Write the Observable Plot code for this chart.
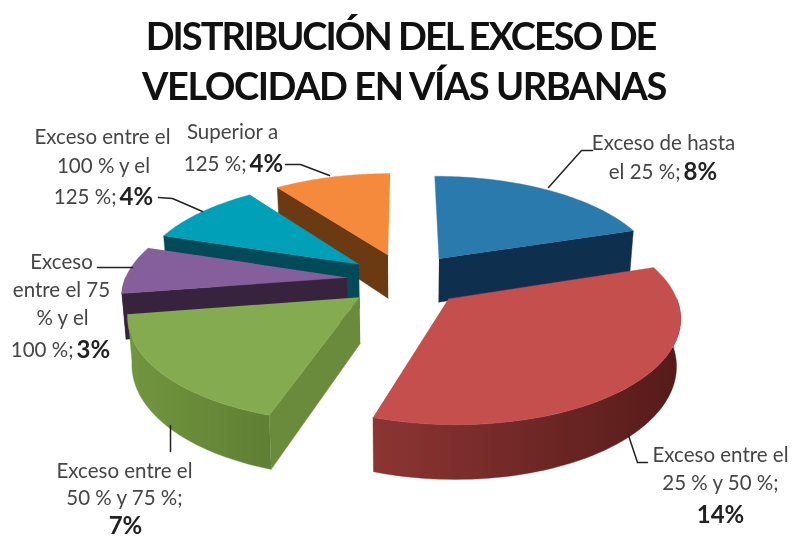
<!DOCTYPE html>
<html>
<head>
<meta charset="utf-8">
<script src="https://cdn.jsdelivr.net/npm/d3@7"></script>
<script src="https://cdn.jsdelivr.net/npm/@observablehq/plot@0.6"></script>
<style>
html,body{margin:0;padding:0;background:#fff}
svg{display:block;filter:blur(0.7px)}
.ttl1 text{letter-spacing:-2px}
.ttl2 text{letter-spacing:-1.44px}
</style>
</head>
<body>
<div id="chart"></div>
<script>
// Data
const titleLines = ["DISTRIBUCIÓN DEL EXCESO DE", "VELOCIDAD EN VÍAS URBANAS"];
const categories = ["Exceso de hasta el 25 %", "Exceso entre el 25 % y 50 %", "Exceso entre el 50 % y 75 %", "Exceso entre el 75 % y el 100 %", "Exceso entre el 100 % y el 125 %", "Superior a 125 %"];
const values = [8, 14, 7, 3, 4, 4];

// Styles
const topColors  = ["#2b7aae", "#c54f4c", "#85ab50", "#855f9b", "#00a0b9", "#f58a3d"];
const sideColors = ["#0e2f4e", "#7a2a28", "#6a8a3c", "#38233f", "#024a58", "#6b3a12"];
const rimStops = [
  ["#0e2f4e", "#0e2f4e"], ["#8c3533", "#551b19"], ["#71963f", "#5f7f33"],
  ["#38233f", "#38233f"], ["#024a58", "#024a58"], ["#6b3a12", "#6b3a12"]
];
const drawOrder = [5, 4, 3, 2, 0, 1];

// Perspective pie geometry derived from the values
const view = {cx: 405, cy: 279, rx: 222, ry: 100.5, k: 0.15, depth: 45, explode: 0.265, taper: 0.985};
const rad = d => d * Math.PI / 180;
const total = d3.sum(values);
let acc = 0;
const slices = values.map((v, i) => {
  const a0 = acc / total * 360; acc += v; const a1 = acc / total * 360;
  const m = (a0 + a1) / 2;
  return {i, a0, a1, ex: view.explode * Math.sin(rad(m)), ey: view.explode * Math.cos(rad(m))};
});
function proj(s, a, r, down) {
  const u = s.ex + r * Math.sin(rad(a)), v = s.ey + r * Math.cos(rad(a)), w = 1 + view.k * v;
  return {x: view.cx + view.rx * u / w * (down ? view.taper : 1), y: view.cy - view.ry * v / w + (down ? view.depth / w : 0)};
}
const arc = (s, from, to, down) => d3.range(0, 61).map(t => proj(s, from + (to - from) * t / 60, 1, down));
function edgeFace(s, a) {
  return [proj(s, 0, 0, false), proj(s, a, 1, false), proj(s, a, 1, true), proj(s, 0, 0, true)];
}

const defs = () => {
  const d = d3.create("svg:defs");
  rimStops.forEach((st, i) => {
    const g = d.append("linearGradient").attr("id", "rim" + i);
    g.append("stop").attr("offset", "0").attr("stop-color", st[0]);
    g.append("stop").attr("offset", "1").attr("stop-color", st[1]);
  });
  return d.node();
};

const face = (pts, color) => Plot.line(pts, {x: "x", y: "y", fill: color, stroke: color, strokeWidth: 0.4});
const pieMarks = [];
for (const i of drawOrder) {
  const s = slices[i];
  const rs = Math.max(s.a0, 90), re = Math.min(s.a1, 270);
  if (re > rs) pieMarks.push(face([...arc(s, rs, re, false), ...arc(s, re, rs, true)], `url(#rim${i})`));
  if (Math.sin(rad(s.a0)) < -1e-6) pieMarks.push(face(edgeFace(s, s.a0), sideColors[i]));
  if (Math.sin(rad(s.a1)) > 1e-6) pieMarks.push(face(edgeFace(s, s.a1), sideColors[i]));
  pieMarks.push(face([proj(s, 0, 0, false), ...arc(s, s.a0, s.a1, false)], topColors[i]));
}

// Label layout: centred plain lines, and [plain, bold] lines meeting at a seam
const plainLines = [
  ["Exceso de hasta", 663, 143], ["Superior a", 232, 132],
  ["Exceso entre el", 102, 137], ["100 % y el", 103, 166],
  ["Exceso", 61, 262], ["entre el 75", 61, 290], ["% y el", 62, 318],
  ["Exceso entre el", 124, 471], ["50 % y 75 %;", 124, 498],
  ["Exceso entre el", 720, 455], ["25 % y 50 %;", 720, 483]
].map(([text, x, y]) => ({text, x, y}));
const seamLines = [
  ["el 25 %;", 0, 680, 172], ["125 %;", 5, 246, 164], ["125 %;", 4, 116, 197], ["100 %;", 3, 73, 350]
].map(([text, idx, x, y]) => ({text, value: values[idx] + "%", x, y}));
const centredValues = [[2, 125, 526], [1, 720, 515]].map(([idx, x, y]) => ({value: values[idx] + "%", x, y}));
const leaders = [
  [[548, 187], [581, 150], [592, 150]],
  [[285, 164], [300, 164], [329, 175]],
  [[158, 197], [172, 198], [202, 211]],
  [[97, 267], [132, 267]],
  [[170, 425], [170, 451]],
  [[628, 435], [637, 462], [647, 462]]
].flatMap((l, id) => l.map(([x, y]) => ({id, x, y})));

const font = "Lato, 'Noto Sans', sans-serif";
const chart = Plot.plot({
  width: 792, height: 541, margin: 0,
  style: {background: "#fff", fontFamily: font},
  x: {domain: [0, 792], range: [0, 792], axis: null},
  y: {domain: [0, 541], range: [0, 541], axis: null},
  marks: [
    defs,
    ...pieMarks,
    Plot.line(leaders, {x: "x", y: "y", z: "id", stroke: "#222", strokeWidth: 1.5}),
    Plot.text([titleLines[0]], {x: () => 400, y: () => 37, text: d => d, fontSize: 38, fontWeight: 700, fill: "#111", className: "ttl1"}),
    Plot.text([titleLines[1]], {x: () => 403.5, y: () => 87, text: d => d, fontSize: 38, fontWeight: 700, fill: "#111", className: "ttl2"}),
    Plot.text(plainLines, {x: "x", y: "y", text: "text", fontSize: 20.5, fill: "#454545"}),
    Plot.text(seamLines, {x: "x", y: "y", text: "text", fontSize: 20.5, fill: "#454545", textAnchor: "end"}),
    Plot.text(seamLines, {x: d => d.x + 3, y: "y", text: "value", fontSize: 24, fontWeight: 700, fill: "#222", textAnchor: "start"}),
    Plot.text(centredValues, {x: "x", y: "y", text: "value", fontSize: 24, fontWeight: 700, fill: "#222"})
  ]
});
document.getElementById("chart").append(chart);
</script>
</body>
</html>
